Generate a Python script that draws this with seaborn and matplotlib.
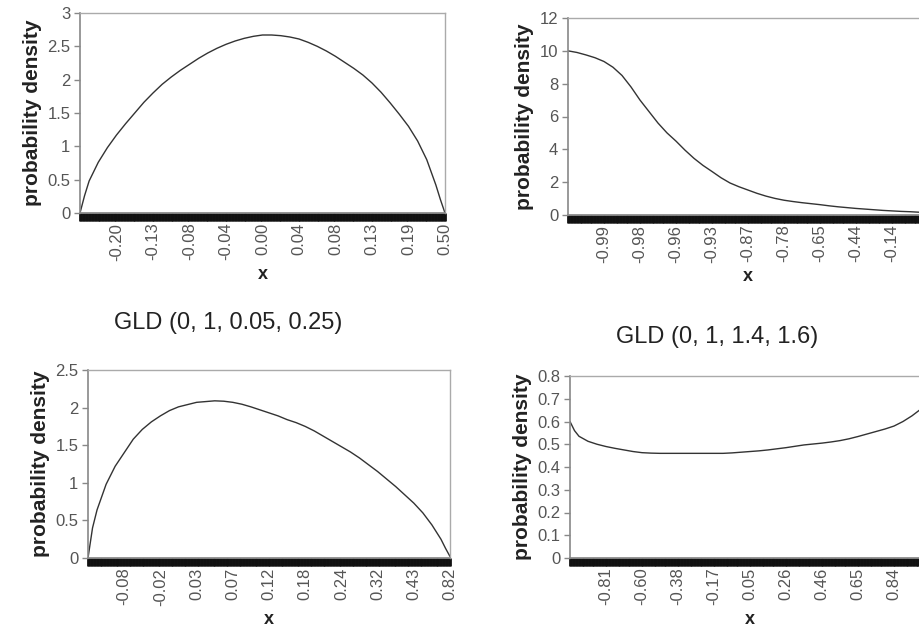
import numpy as np
import pandas as pd
import matplotlib
matplotlib.use("Agg")
import matplotlib.pyplot as plt
import seaborn as sns

sns.set_theme(style="white")
plt.rcParams['font.family'] = ['Liberation Sans', 'DejaVu Sans']

# cumulative probability positions of the plotted points (category axis)
p_pts = [0.0, 0.0125, 0.025, 0.05, 0.075, 0.1, 0.125, 0.15, 0.175, 0.2, 0.225, 0.25,
         0.275, 0.3, 0.325, 0.35, 0.375, 0.4, 0.425, 0.45, 0.475, 0.5, 0.525, 0.55,
         0.575, 0.6, 0.625, 0.65, 0.675, 0.7, 0.725, 0.75, 0.775, 0.8, 0.825, 0.85,
         0.875, 0.9, 0.925, 0.95, 0.975, 0.9875, 1.0]
label_pos = [0.1, 0.2, 0.3, 0.4, 0.5, 0.6, 0.7, 0.8, 0.9, 1.0]

# top left
tl_dens = [0.0, 0.26, 0.48, 0.76, 0.98, 1.17, 1.34, 1.5, 1.66, 1.8, 1.93, 2.04,
           2.14, 2.23, 2.32, 2.4, 2.47, 2.53, 2.58, 2.62, 2.65, 2.67, 2.67, 2.66,
           2.64, 2.61, 2.56, 2.5, 2.43, 2.35, 2.26, 2.17, 2.07, 1.95, 1.81, 1.65,
           1.48, 1.3, 1.08, 0.8, 0.42, 0.2, 0.0]
tl_labels = ["-0.20", "-0.13", "-0.08", "-0.04", "0.00", "0.04", "0.08", "0.13", "0.19", "0.50"]
tl_yticks = [0, 0.5, 1, 1.5, 2, 2.5, 3]
tl_ylabels = ["0", "0.5", "1", "1.5", "2", "2.5", "3"]

# top right
tr_dens = [10.0, 9.95, 9.9, 9.75, 9.58, 9.35, 9.0, 8.5, 7.8, 7.0, 6.3, 5.6,
           5.0, 4.5, 3.95, 3.45, 3.02, 2.65, 2.27, 1.95, 1.72, 1.52, 1.32, 1.15,
           1.01, 0.9, 0.82, 0.75, 0.69, 0.63, 0.56, 0.5, 0.45, 0.4, 0.36, 0.32,
           0.28, 0.25, 0.22, 0.2, 0.17, 0.16, 0.15]
tr_labels = ["-0.99", "-0.98", "-0.96", "-0.93", "-0.87", "-0.78", "-0.65", "-0.44", "-0.14", "0.49"]
tr_yticks = [0, 2, 4, 6, 8, 10, 12]
tr_ylabels = ["0", "2", "4", "6", "8", "10", "12"]

# bottom left
bl_dens = [0.0, 0.4, 0.64, 0.98, 1.22, 1.4, 1.58, 1.71, 1.81, 1.89, 1.96, 2.01,
           2.04, 2.07, 2.08, 2.09, 2.085, 2.07, 2.045, 2.01, 1.97, 1.93, 1.89, 1.84,
           1.8, 1.75, 1.69, 1.62, 1.55, 1.48, 1.41, 1.33, 1.24, 1.15, 1.05, 0.95,
           0.84, 0.73, 0.6, 0.44, 0.25, 0.13, 0.02]
bl_labels = ["-0.08", "-0.02", "0.03", "0.07", "0.12", "0.18", "0.24", "0.32", "0.43", "0.82"]
bl_yticks = [0, 0.5, 1, 1.5, 2, 2.5]
bl_ylabels = ["0", "0.5", "1", "1.5", "2", "2.5"]

# bottom right
br_dens = [0.6, 0.56, 0.535, 0.513, 0.5, 0.49, 0.482, 0.475, 0.468, 0.463, 0.461, 0.46,
           0.46, 0.46, 0.46, 0.46, 0.46, 0.46, 0.46, 0.462, 0.465, 0.468, 0.471, 0.475,
           0.48, 0.485, 0.491, 0.497, 0.501, 0.505, 0.51, 0.516, 0.524, 0.534, 0.545, 0.556,
           0.567, 0.58, 0.6, 0.625, 0.655, 0.675, 0.7]
br_labels = ["-0.81", "-0.60", "-0.38", "-0.17", "0.05", "0.26", "0.46", "0.65", "0.84", "1.00"]
br_yticks = [0, 0.1, 0.2, 0.3, 0.4, 0.5, 0.6, 0.7, 0.8]
br_ylabels = ["0", "0.1", "0.2", "0.3", "0.4", "0.5", "0.6", "0.7", "0.8"]

W, H = 920, 636
fig = plt.figure(figsize=(W / 100, H / 100), dpi=100)


def make_ax(l, t, r, b):
    return fig.add_axes([l / W, 1 - b / H, (r - l) / W, (b - t) / H])


panels = [
    (make_ax(80, 13, 445, 213), tl_dens, tl_labels, tl_yticks, tl_ylabels),
    (make_ax(568, 18, 928, 215), tr_dens, tr_labels, tr_yticks, tr_ylabels),
    (make_ax(88, 370, 450, 558), bl_dens, bl_labels, bl_yticks, bl_ylabels),
    (make_ax(570, 376, 930, 558), br_dens, br_labels, br_yticks, br_ylabels),
]

for ax, dens, xl, yt, yl in panels:
    df = pd.DataFrame({"p": p_pts, "density": dens})
    sns.lineplot(data=df, x="p", y="density", ax=ax, color="#333333", linewidth=1.0)
    ax.set_xlim(0, 1)
    ax.set_ylim(yt[0], yt[-1])
    ax.set_xticks(label_pos)
    ax.set_xticklabels(xl, rotation=90, fontsize=12, color="#555555")
    # dense category ticks -> solid black band under the plot
    ax.set_xticks(np.arange(0, 1.001, 0.004), minor=True)
    ax.tick_params(axis="x", which="both", direction="out", length=6, width=2,
                   color="#111111", bottom=True, pad=1)
    ax.set_yticks(yt)
    ax.set_yticklabels(yl, fontsize=12, color="#555555")
    ax.tick_params(axis="y", direction="out", length=4, width=1, color="#888888", left=True, pad=3)
    for side in ["top", "right"]:
        ax.spines[side].set_color("#aaaaaa")
        ax.spines[side].set_linewidth(1.0)
    ax.spines["left"].set_color("#888888")
    ax.spines["left"].set_linewidth(1.2)
    ax.spines["bottom"].set_color("#888888")
    ax.set_ylabel("probability density", fontsize=15, fontweight="bold", color="#222222", labelpad=4)
    ax.set_xlabel("x", fontsize=13, fontweight="bold", color="#222222", labelpad=4)

fig.text(228 / W, 1 - 323 / H, "GLD (0, 1, 0.05, 0.25)", fontsize=17, color="#222222",
         ha="center", va="center")
fig.text(717 / W, 1 - 337 / H, "GLD (0, 1, 1.4, 1.6)", fontsize=17, color="#222222",
         ha="center", va="center")

fig.savefig("out.png", dpi=100)
